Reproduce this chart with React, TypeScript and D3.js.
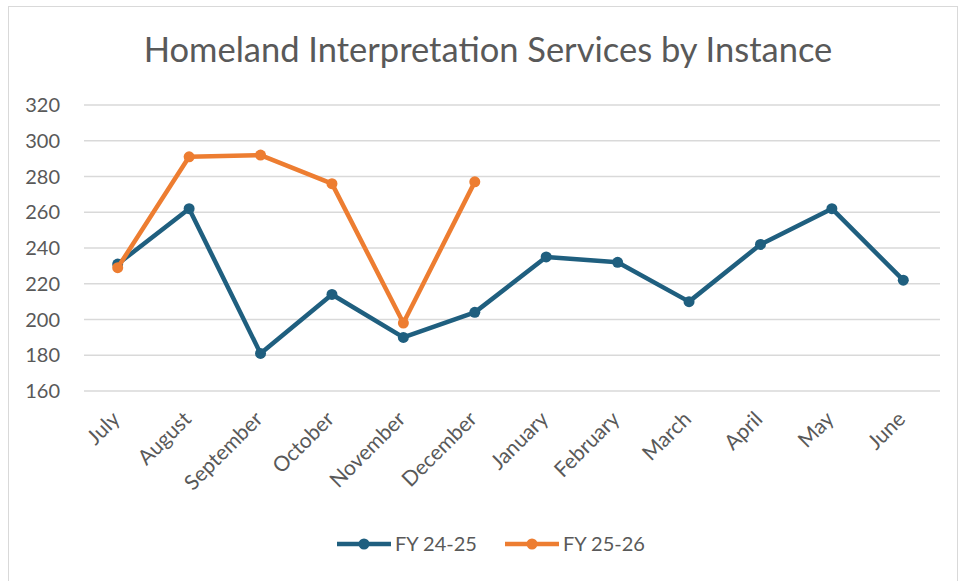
import React from 'react';
import * as d3 from 'd3';

const months = ['July', 'August', 'September', 'October', 'November', 'December', 'January', 'February', 'March', 'April', 'May', 'June'];
const fy2425 = [231, 262, 181, 214, 190, 204, 235, 232, 210, 242, 262, 222];
const fy2526 = [229, 291, 292, 276, 198, 277];
const yTicks = [160, 180, 200, 220, 240, 260, 280, 300, 320];
const seriesNames = ['FY 24-25', 'FY 25-26'];

const W = 958, H = 581;
const font = 'Lato, "Open Sans", sans-serif';
const textColor = '#595959';
const colors = ['#1f5f7f', '#ed7d31'];

export default function App() {
  const x = d3.scalePoint<string>().domain(months).range([82, 939]).padding(0.5);
  const y = d3.scaleLinear().domain([160, 320]).range([391, 105]);

  const line = d3.line<number>()
    .x((d, i) => x(months[i]) as number)
    .y(d => y(d));

  const series = [fy2425, fy2526];

  return (
    <svg width={W} height={H} style={{ position: 'absolute', left: 0, top: 0 }}>
      <rect x={0} y={0} width={W} height={H} fill="#fff" />
      <rect x={8.5} y={6.5} width={W - 9} height={H - 6} fill="#fff" stroke="#d9d9d9" strokeWidth={1} />
      <text x={488} y={62} textAnchor="middle" fontFamily={font} fontSize={34.5} fill={textColor}>
        Homeland Interpretation Services by Instance
      </text>
      {yTicks.map(t => (
        <g key={t}>
          <line x1={84} x2={940} y1={y(t)} y2={y(t)} stroke="#d9d9d9" strokeWidth={1.5} />
          <text x={60} y={y(t)} dy="0.35em" textAnchor="end" fontFamily={font} fontSize={20} fill={textColor}>{t}</text>
        </g>
      ))}
      {months.map(m => (
        <text key={m} transform={`translate(${(x(m) as number) - 7},${410}) rotate(-45)`} textAnchor="end"
          dy="0.7em" fontFamily={font} fontSize={21} fill={textColor}>{m}</text>
      ))}
      {series.map((s, si) => (
        <g key={si}>
          <path d={line(s) || ''} fill="none" stroke={colors[si]} strokeWidth={4.5} strokeLinejoin="round" />
          {s.map((v, i) => (
            <circle key={i} cx={x(months[i]) as number} cy={y(v)} r={5.5} fill={colors[si]} />
          ))}
        </g>
      ))}
      {seriesNames.map((n, i) => {
        const lx = i === 0 ? 337 : 505;
        return (
          <g key={n}>
            <line x1={lx} x2={lx + 54} y1={544} y2={544} stroke={colors[i]} strokeWidth={4.5} />
            <circle cx={lx + 27} cy={544} r={5.5} fill={colors[i]} />
            <text x={lx + 58} y={544} dy="0.35em" fontFamily={font} fontSize={20} fill={textColor}>{n}</text>
          </g>
        );
      })}
    </svg>
  );
}
